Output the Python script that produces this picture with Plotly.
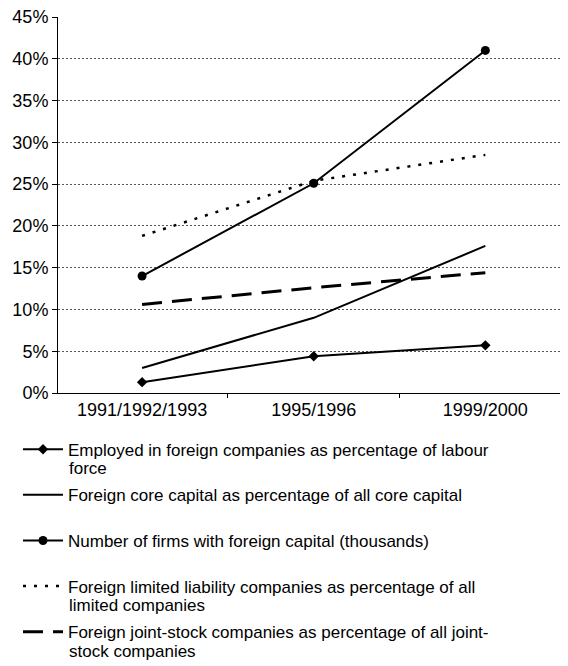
import plotly.graph_objects as go

periods = ["1991/1992/1993", "1995/1996", "1999/2000"]

employed_pct = [1.3, 4.4, 5.7]
core_capital_pct = [3.0, 9.0, 17.6]
firms_thousands = [14.0, 25.1, 41.0]
limited_liability_pct = [18.8, 25.4, 28.5]
joint_stock_pct = [10.6, 12.6, 14.4]

names = [
    "Employed in foreign companies as percentage of labour",
    "Foreign core capital as percentage of all core capital",
    "Number of firms with foreign capital (thousands)",
    "Foreign limited liability companies as percentage of all",
    "Foreign joint-stock companies as percentage of all joint-",
]
# continuation lines of the wrapped legend labels (entry index, text)
name_continuations = [(0, "force"), (3, "limited companies"), (4, "stock companies")]

y_ticks = [0, 5, 10, 15, 20, 25, 30, 35, 40, 45]
y_tick_labels = ["0%", "5%", "10%", "15%", "20%", "25%", "30%", "35%", "40%", "45%"]

fig = go.Figure()
fig.add_trace(go.Scatter(x=periods, y=employed_pct, name=names[0], legendgroup="a",
                         mode="lines+markers", line=dict(color="black", width=2),
                         marker=dict(symbol="diamond", size=8, color="black")))
fig.add_trace(go.Scatter(x=periods, y=core_capital_pct, name=names[1], legendgroup="b",
                         mode="lines", line=dict(color="black", width=2)))
fig.add_trace(go.Scatter(x=periods, y=firms_thousands, name=names[2], legendgroup="c",
                         mode="lines+markers", line=dict(color="black", width=2),
                         marker=dict(symbol="circle", size=9, color="black")))
fig.add_trace(go.Scatter(x=periods, y=limited_liability_pct, name=names[3], legendgroup="d",
                         mode="lines", line=dict(color="black", width=2.5, dash="3px,8px")))
fig.add_trace(go.Scatter(x=periods, y=joint_stock_pct, name=names[4], legendgroup="e",
                         mode="lines", line=dict(color="black", width=3, dash="20px,10px")))

# layout geometry (figure coords; the page adds an 8px body margin)
FIG_W, FIG_H = 560, 658
M_L, M_R, M_T, M_B = 50, 2, 9, 273
PLOT_W = FIG_W - M_L - M_R
PLOT_H = FIG_H - M_T - M_B
PLOT_BOTTOM_FIG = FIG_H - M_B
first_line_fig = 450 - 8
entry_step = 45.75
for idx, txt in name_continuations:
    y_fig = first_line_fig + idx * entry_step + 18
    fig.add_annotation(text=txt, xref="paper", yref="paper",
                       x=(67 - 8 - M_L) / PLOT_W, xanchor="left",
                       y=-(y_fig - PLOT_BOTTOM_FIG) / PLOT_H, yanchor="middle",
                       showarrow=False, font=dict(size=17, color="black"))

fig.update_layout(
    width=FIG_W, height=FIG_H,
    margin=dict(l=M_L, r=M_R, t=M_T, b=M_B, autoexpand=False),
    paper_bgcolor="white", plot_bgcolor="white",
    font=dict(family="Liberation Sans, Arial, sans-serif", size=17, color="black"),
    showlegend=True,
    legend=dict(orientation="v", x=(10 - M_L) / PLOT_W, xanchor="left",
                y=-(431.7 - 8 - PLOT_BOTTOM_FIG) / PLOT_H, yanchor="top",
                valign="middle", tracegroupgap=20.5, itemwidth=40, font=dict(size=17),
                bgcolor="rgba(0,0,0,0)", traceorder="grouped"),
    xaxis=dict(type="category", range=[-0.49, 2.47], showline=True, linecolor="black",
               linewidth=1, ticks="outside", tickson="boundaries", ticklen=4,
               tickcolor="black", showgrid=False, zeroline=False, automargin=False,
               tickfont=dict(size=18)),
    yaxis=dict(range=[0, 45], tickvals=y_ticks, ticktext=y_tick_labels, showline=True,
               linecolor="black", linewidth=1, ticks="outside", ticklen=5,
               tickcolor="black", showgrid=True, gridcolor="#555555", gridwidth=1,
               griddash="2px,2px", zeroline=False, automargin=False,
               ticklabeloverflow="allow", tickfont=dict(size=18)),
)

fig.write_html("out.html")
